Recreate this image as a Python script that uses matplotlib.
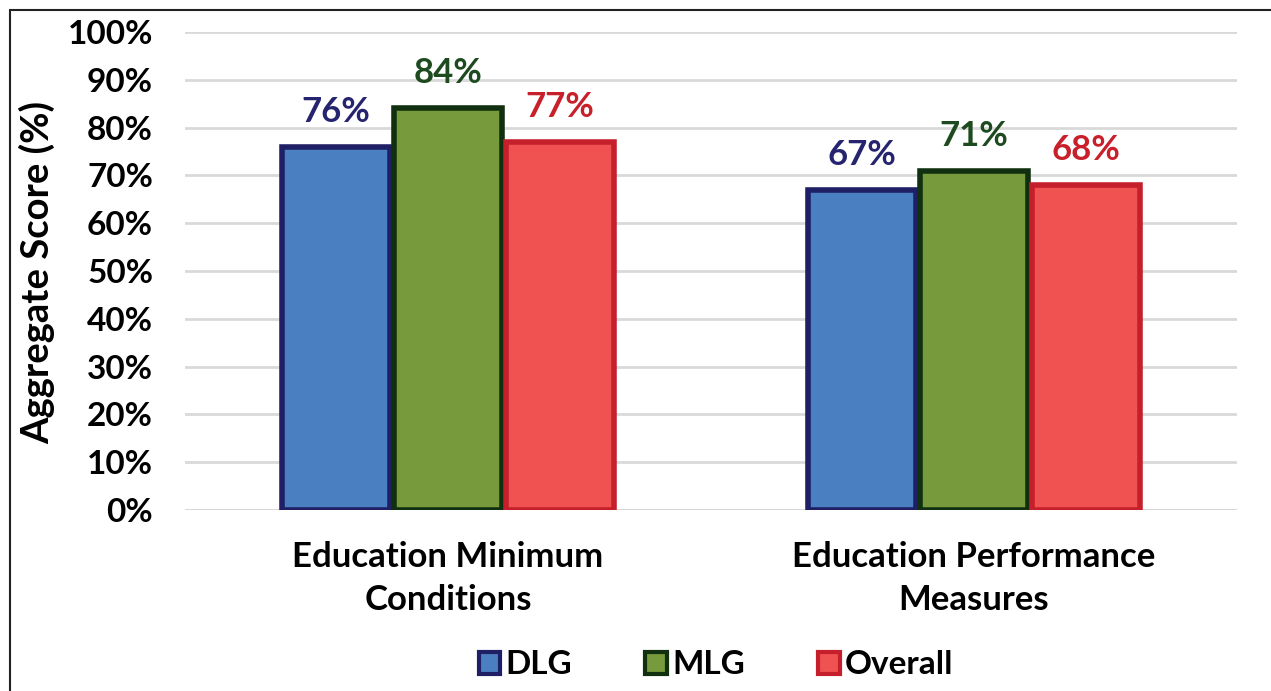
import matplotlib
matplotlib.use("Agg")
import matplotlib.pyplot as plt
from matplotlib.patches import Rectangle
import numpy as np

categories = ["Education Minimum\nConditions", "Education Performance\nMeasures"]
series = ["DLG", "MLG", "Overall"]
dlg = [76, 67]
mlg = [84, 71]
overall = [77, 68]
yticks = [0, 10, 20, 30, 40, 50, 60, 70, 80, 90, 100]

fills = ["#4a80c2", "#779a3c", "#f05252"]
edges = ["#1f1f66", "#11300f", "#c41f2a"]
label_colors = ["#26246e", "#1d4a1f", "#c8202a"]

plt.rcParams['font.family'] = ['Lato', 'DejaVu Sans']

fig = plt.figure(figsize=(12.71, 6.91), dpi=100)
ax = fig.add_axes([185/1271, 1-510/691, (1237-185)/1271, (510-32)/691])

x = np.arange(len(categories))
w = 0.205
gap = 0.008
vals = [dlg, mlg, overall]
for i, (v, fc, ec, lc) in enumerate(zip(vals, fills, edges, label_colors)):
    pos = x + (i - 1) * (w + gap)
    ax.bar(pos, v, width=w, color=fc, edgecolor=ec, linewidth=4, zorder=3, label=series[i])
    for p, val in zip(pos, v):
        ax.text(p, val + 4.0, f"{val}%", ha="center", va="bottom", fontsize=25,
                fontweight="bold", color=lc)

ax.set_xlim(-0.5, 1.5)
ax.set_ylim(0, 100)
ax.set_yticks(yticks)
ax.set_yticklabels([f"{t}%" for t in yticks], fontsize=24, fontweight="bold")
ax.set_xticks(x)
ax.set_xticklabels(categories, fontsize=25, fontweight="bold", linespacing=1.45)
ax.tick_params(axis="y", length=0, pad=23)
ax.tick_params(axis="x", length=0, pad=22)
ax.yaxis.grid(True, color="#d9d9d9", linewidth=2, zorder=0)
for s in ax.spines.values():
    s.set_visible(False)
ax.axhline(0, color="#d0d0d0", linewidth=2, zorder=1)
ax.set_ylabel("Aggregate Score (%)", fontsize=27.5, fontweight="bold")
ax.yaxis.set_label_coords((55-185)/1052, (510-272)/478)

leg = fig.legend(loc="center", bbox_to_anchor=(716/1271, 1-665/691), ncol=3, frameon=False,
                 handlelength=0.65, handleheight=0.65, columnspacing=2.2,
                 handletextpad=0.15, prop={"weight": "bold", "size": 24})
for h in leg.legend_handles:
    h.set_linewidth(3)

fig.patches.append(Rectangle((10/1271, -0.1), 1.2, 1 - 10/691 + 0.1, transform=fig.transFigure,
                             fill=False, edgecolor="#222222", linewidth=1.5))

fig.savefig("out.png", dpi=100)
